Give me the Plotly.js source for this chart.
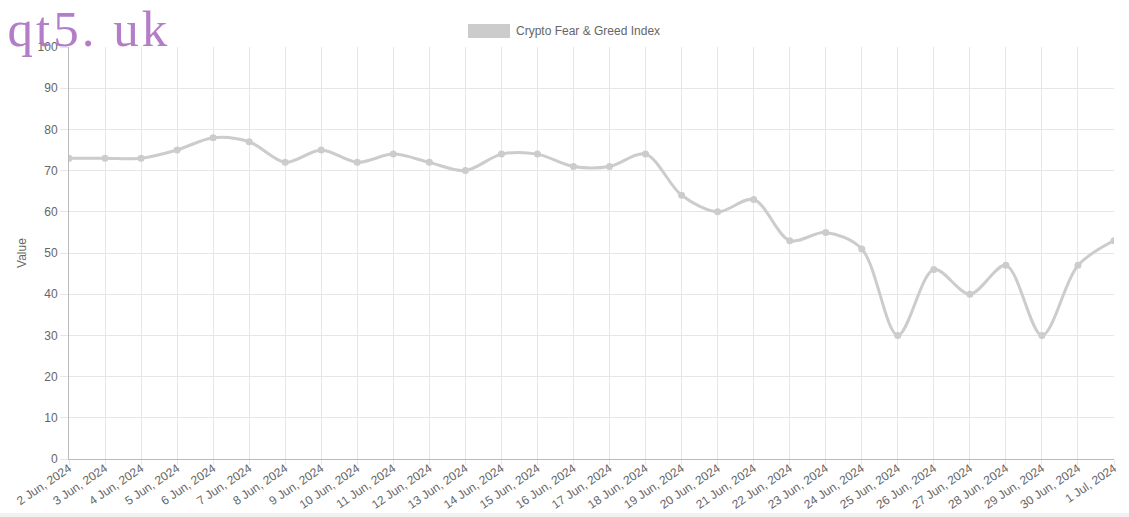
<!DOCTYPE html>
<html>
<head>
<meta charset="utf-8">
<script src="https://cdn.plot.ly/plotly-3.0.1.min.js"></script>
<style>
html,body{margin:0;padding:0;background:#f1f1f1;overflow:hidden;}
#chart{width:1129px;height:513px;background:#fff;}
</style>
</head>
<body>
<div id="chart"></div>
<script>
const dates = ["2 Jun, 2024","3 Jun, 2024","4 Jun, 2024","5 Jun, 2024","6 Jun, 2024","7 Jun, 2024","8 Jun, 2024","9 Jun, 2024","10 Jun, 2024","11 Jun, 2024","12 Jun, 2024","13 Jun, 2024","14 Jun, 2024","15 Jun, 2024","16 Jun, 2024","17 Jun, 2024","18 Jun, 2024","19 Jun, 2024","20 Jun, 2024","21 Jun, 2024","22 Jun, 2024","23 Jun, 2024","24 Jun, 2024","25 Jun, 2024","26 Jun, 2024","27 Jun, 2024","28 Jun, 2024","29 Jun, 2024","30 Jun, 2024","1 Jul, 2024"];
const fearGreed = [73,73,73,75,78,77,72,75,72,74,72,70,74,74,71,71,74,64,60,63,53,55,51,30,46,40,47,30,47,53];
const seriesName = "Crypto Fear & Greed Index";
const yTicks = [0,10,20,30,40,50,60,70,80,90,100];

const lineColor = "rgb(204,204,204)";
const trace = {
  x: dates, y: fearGreed, type: "scatter", mode: "lines+markers",
  name: seriesName, showlegend: false,
  line: {color: lineColor, width: 3, shape: "spline", smoothing: 0.9},
  marker: {color: lineColor, size: 7}
};
const layout = {
  width: 1129, height: 513,
  margin: {l: 69, r: 15, t: 47, b: 54},
  paper_bgcolor: "#fff", plot_bgcolor: "#fff",
  font: {family: "Liberation Sans, Arial, sans-serif", size: 12, color: "#666"},
  xaxis: {
    type: "category", range: [0, dates.length - 1],
    tickangle: -34, tickfont: {size: 12, color: "#666"},
    showgrid: true, gridcolor: "#e6e6e6", gridwidth: 1,
    ticks: "outside", ticklen: 5, tickcolor: "#e6e6e6",
    ticklabelstandoff: -8,
    showline: true, linecolor: "#bbb", linewidth: 1, zeroline: false
  },
  yaxis: {
    range: [0, 100], tickvals: yTicks, ticktext: yTicks.map(String),
    tickfont: {size: 12, color: "#666"},
    showgrid: true, gridcolor: "#e6e6e6", gridwidth: 1,
    ticks: "outside", ticklen: 8, tickcolor: "#e6e6e6",
    showline: true, linecolor: "#bbb", linewidth: 1, zeroline: false,
    title: {text: "Value", font: {size: 12, color: "#666"}, standoff: 8}
  },
  shapes: [
    {type: "rect", xref: "paper", yref: "paper",
     x0: (468 - 69) / 1045, x1: (510 - 69) / 1045,
     y0: (459 - 38) / 412, y1: (459 - 24) / 412,
     fillcolor: lineColor, line: {width: 0}}
  ],
  annotations: [
    {text: seriesName, xref: "paper", yref: "paper",
     x: (514 - 69) / 1045, y: (459 - 31) / 412, xanchor: "left", yanchor: "middle",
     showarrow: false, font: {size: 12, color: "#666"}},
    {text: "qt5. uk", xref: "paper", yref: "paper",
     x: (16 - 69) / 1045, y: (459 + 1) / 412, xanchor: "left", yanchor: "top",
     showarrow: false, font: {family: "Liberation Serif, DejaVu Serif, serif", size: 51, color: "rgba(172,114,194,0.92)"}}
  ]
};
Plotly.newPlot("chart", [trace], layout, {displayModeBar: false, staticPlot: true}).then(function(gd){
  const anns = gd.querySelectorAll(".annotation-text");
  anns.forEach(function(t){
    if (t.textContent.indexOf("qt5") === 0) t.style.letterSpacing = "3px";
  });
});
</script>
</body>
</html>
